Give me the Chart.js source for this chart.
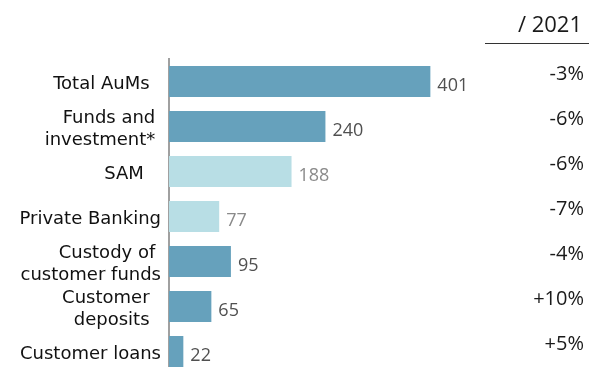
<!DOCTYPE html>
<html>
<head>
<meta charset="utf-8">
<script src="https://cdn.jsdelivr.net/npm/chart.js@4.4.0/dist/chart.umd.min.js"></script>
<style>
  html, body { margin: 0; padding: 0; background: #fff; overflow: hidden; }
  #wrap { width: 589px; height: 367px; overflow: hidden; }
</style>
</head>
<body>
<div id="wrap"><canvas id="aumChart" width="589" height="393"></canvas></div>
<script>
// Chart data
const categories = [
  'Total AuMs  ',
  ['Funds and ', 'investment* '],
  'SAM   ',
  'Private Banking',
  ['Custody of ', 'customer funds'],
  ['Customer  ', 'deposits  '],
  'Customer loans'
];
const volumes = [401, 240, 188, 77, 95, 65, 22];
const changeVs2021 = ['-3%', '-6%', '-6%', '-7%', '-4%', '+10%', '+5%'];
const columnTitle = '/ 2021';

const DARK = '#66a1bc';
const LIGHT = '#b8dee5';
const barColors = categories.map((c, i) => (i === 2 || i === 3) ? LIGHT : DARK);
const valueColors = categories.map((c, i) => (i === 2 || i === 3) ? '#8a8a8a' : '#505050');

// value labels at bar end + change column on the right
const labelsPlugin = {
  id: 'labelsPlugin',
  afterDatasetsDraw(chart) {
    const ctx = chart.ctx;
    const meta = chart.getDatasetMeta(0);
    ctx.save();
    meta.data.forEach((bar, i) => {
      ctx.font = '18px "Open Sans"';
      ctx.fillStyle = valueColors[i];
      ctx.textAlign = 'left';
      ctx.textBaseline = 'middle';
      ctx.fillText(volumes[i], bar.x + 7, bar.y + 4);

      ctx.font = '20px "Open Sans"';
      ctx.fillStyle = '#1a1a1a';
      ctx.textAlign = 'right';
      ctx.fillText(changeVs2021[i], 584, bar.y - 7);
    });

    // column header
    ctx.font = '22px "Open Sans"';
    ctx.fillStyle = '#1a1a1a';
    ctx.textAlign = 'right';
    ctx.textBaseline = 'middle';
    ctx.fillText(columnTitle, 582, 26);
    ctx.strokeStyle = '#333';
    ctx.lineWidth = 1;
    ctx.beginPath();
    ctx.moveTo(485, 43.5);
    ctx.lineTo(589, 43.5);
    ctx.stroke();
    ctx.restore();
  }
};

new Chart(document.getElementById('aumChart').getContext('2d'), {
  type: 'bar',
  data: {
    labels: categories,
    datasets: [{
      data: volumes,
      backgroundColor: barColors,
      borderWidth: 0,
      categoryPercentage: 1,
      barPercentage: 0.69
    }]
  },
  options: {
    indexAxis: 'y',
    responsive: false,
    animation: false,
    layout: { padding: { top: 59, left: 15, right: 55, bottom: 0 } },
    plugins: {
      legend: { display: false },
      tooltip: { enabled: false }
    },
    scales: {
      x: {
        display: false,
        min: 0,
        max: 560
      },
      y: {
        grid: { display: false, drawTicks: false },
        border: { display: true, color: '#a0a0a0', width: 2 },
        afterFit: function(scale) { scale.width = 154; },
        ticks: {
          autoSkip: false,
          color: '#111',
          padding: 8,
          labelOffset: 3,
          font: { family: 'DejaVu Sans', size: 18, lineHeight: 1.22 }
        }
      }
    }
  },
  plugins: [labelsPlugin]
});
</script>
</body>
</html>
